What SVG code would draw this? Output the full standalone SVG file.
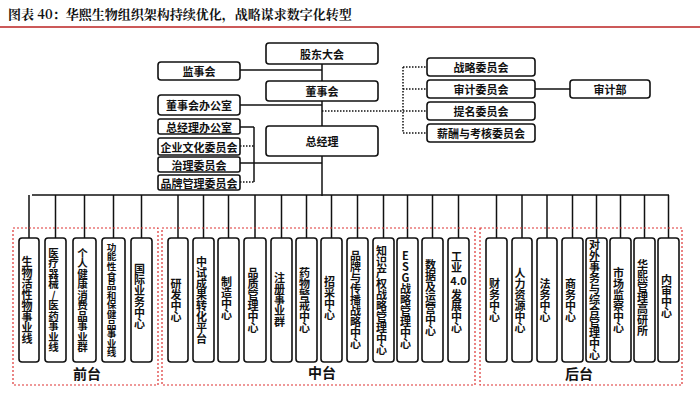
<svg xmlns="http://www.w3.org/2000/svg" width="700" height="401" viewBox="0 0 700 401">
<style>
.b{fill:#fff;stroke:#111;stroke-width:1.6}
.t{font-family:"Noto Sans CJK SC","Liberation Sans",sans-serif;font-weight:bold;font-size:11px;fill:#111;text-anchor:middle;dominant-baseline:central}
.v{font-family:"Noto Sans CJK SC",sans-serif;font-weight:bold;font-size:11px;fill:#111;writing-mode:vertical-rl;text-orientation:upright;text-anchor:middle;transform:translateX(-2px)}
.l{stroke:#111;stroke-width:1.5;fill:none}
.d{stroke:#111;stroke-width:1.5;fill:none;stroke-dasharray:1.5 1.5}
.r{fill:none;stroke:#d33;stroke-width:1.2;stroke-dasharray:2 2}
.g{font-family:"Noto Sans CJK SC",sans-serif;font-weight:bold;font-size:14px;fill:#111;text-anchor:middle;dominant-baseline:central}
</style>
<rect width="700" height="401" fill="#fff"/>
<text x="8" y="13" style="font-family:'Noto Serif CJK SC','Noto Sans CJK SC',serif;font-weight:bold;font-size:13px;fill:#111;dominant-baseline:central">图表 40：华熙生物组织架构持续优化，战略谋求数字化转型</text>
<line x1="0" y1="27" x2="700" y2="27" stroke="#b22" stroke-width="1.5"/>
<g id="connectors">
<line class="l" x1="322" y1="63" x2="322" y2="126"/>
<line class="l" x1="322" y1="156" x2="322" y2="196" stroke-width="3"/>
<line class="l" x1="240" y1="70" x2="322" y2="70"/>
<line class="l" x1="240" y1="105" x2="322" y2="105"/>
<line class="l" x1="240" y1="127" x2="254" y2="127"/>
<line class="l" x1="254" y1="127" x2="254" y2="182"/>
<line class="d" x1="240" y1="146" x2="254" y2="146"/>
<line class="l" x1="240" y1="163" x2="322" y2="163"/>
<line class="d" x1="240" y1="182" x2="254" y2="182"/>
<line class="d" x1="322" y1="111" x2="403" y2="111"/>
<line class="d" x1="403" y1="67" x2="403" y2="133"/>
<line class="d" x1="403" y1="67" x2="427" y2="67"/>
<line class="d" x1="403" y1="89" x2="427" y2="89"/>
<line class="d" x1="403" y1="111" x2="427" y2="111"/>
<line class="d" x1="403" y1="133" x2="427" y2="133"/>
<line class="l" x1="535" y1="89" x2="570" y2="89"/>
<line class="l" x1="32" y1="195" x2="669" y2="195" stroke-width="2"/>
<path class="l" d="M29 195V238M55.5 195V238M84.5 195V238M113.5 195V238M141.5 195V238M178 195V238M203.5 195V238M228.5 195V238M255 195V238M281.5 195V238M306.5 195V238M331.5 195V238M357.5 195V238M383.5 195V238M407.5 195V238M432.5 195V238M458.5 195V238M496.5 195V238M522 195V238M547 195V238M572.5 195V238M596.5 195V238M620.5 195V238M644.5 195V238M668.5 195V238"/>
</g>
<rect class="r" x="13" y="228" width="145" height="157"/>
<rect class="r" x="162" y="228" width="313" height="157"/>
<rect class="r" x="480" y="228" width="202" height="157"/>
<text class="g" x="87" y="373">前台</text>
<text class="g" x="322" y="372">中台</text>
<text class="g" x="579" y="373">后台</text>
<g id="top">
<g id="n1"><rect class="b" x="266" y="43" width="112" height="21" rx="3"/><text class="t" x="322" y="53.5">股东大会</text></g>
<g id="n2"><rect class="b" x="158" y="62" width="82" height="18" rx="3"/><text class="t" x="199" y="71">监事会</text></g>
<g id="n3"><rect class="b" x="266" y="81" width="112" height="20" rx="3"/><text class="t" x="322" y="91">董事会</text></g>
<g id="n4"><rect class="b" x="158" y="95" width="82" height="20" rx="3"/><text class="t" x="199" y="105">董事会办公室</text></g>
<g id="n5"><rect class="b" x="266" y="126" width="112" height="30" rx="3"/><text class="t" x="322" y="141">总经理</text></g>
<g id="n6"><rect class="b" x="158" y="119" width="82" height="15" rx="2"/><text class="t" x="199" y="126.5">总经理办公室</text></g>
<g id="n7"><rect class="b" x="158" y="138" width="82" height="17" rx="2"/><text class="t" x="199" y="146.5">企业文化委员会</text></g>
<g id="n8"><rect class="b" x="158" y="157" width="82" height="15" rx="2"/><text class="t" x="199" y="164.5">治理委员会</text></g>
<g id="n9"><rect class="b" x="158" y="175" width="82" height="15" rx="2"/><text class="t" x="199" y="182.5">品牌管理委员会</text></g>
<g id="n10"><rect class="b" x="427" y="58" width="108" height="18" rx="3"/><text class="t" x="481" y="67">战略委员会</text></g>
<g id="n11"><rect class="b" x="427" y="80" width="108" height="18" rx="3"/><text class="t" x="481" y="89">审计委员会</text></g>
<g id="n12"><rect class="b" x="427" y="102" width="108" height="18" rx="3"/><text class="t" x="481" y="111">提名委员会</text></g>
<g id="n13"><rect class="b" x="427" y="124" width="108" height="18" rx="3"/><text class="t" x="481" y="133">薪酬与考核委员会</text></g>
<g id="n14"><rect class="b" x="570" y="80" width="80" height="18" rx="3"/><text class="t" x="610" y="89">审计部</text></g>
</g>
<g id="bottom">
<g id="c1"><rect class="b" x="19" y="238" width="20" height="124" rx="3"/><text class="v" x="29" y="300">生物活性物事业线</text></g>
<g id="c2"><rect class="b" x="45" y="238" width="21" height="124" rx="3"/><text class="v" x="55.5" y="300" style="font-size:10.5px">医疗器械/医药事业线</text></g>
<g id="c3"><rect class="b" x="73" y="238" width="23" height="124" rx="3"/><text class="v" x="84.5" y="300" style="font-size:10.5px">个人健康消费品事业群</text></g>
<g id="c4"><rect class="b" x="102" y="238" width="23" height="124" rx="3"/><text class="v" x="113.5" y="300" style="font-size:9.6px">功能性食品和保健品事业线</text></g>
<g id="c5"><rect class="b" x="131" y="238" width="21" height="124" rx="3"/><text class="v" x="141.5" y="296">国际业务中心</text></g>
<g id="c6"><rect class="b" x="168" y="238" width="20" height="124" rx="3"/><text class="v" x="178" y="300">研发中心</text></g>
<g id="c7"><rect class="b" x="193" y="238" width="21" height="124" rx="3"/><text class="v" x="203.5" y="300">中试成果转化平台</text></g>
<g id="c8"><rect class="b" x="218" y="238" width="21" height="124" rx="3"/><text class="v" x="228.5" y="298">制造中心</text></g>
<g id="c9"><rect class="b" x="244" y="238" width="22" height="124" rx="3"/><text class="v" x="255" y="300">品质管理中心</text></g>
<g id="c10"><rect class="b" x="271" y="238" width="21" height="124" rx="3"/><text class="v" x="281.5" y="300">注册事业群</text></g>
<g id="c11"><rect class="b" x="296" y="238" width="21" height="124" rx="3"/><text class="v" x="306.5" y="300">药物警戒中心</text></g>
<g id="c12"><rect class="b" x="321" y="238" width="21" height="124" rx="3"/><text class="v" x="331.5" y="298">招采中心</text></g>
<g id="c13"><rect class="b" x="347" y="238" width="21" height="124" rx="3"/><text class="v" x="357.5" y="300">品牌与传播战略中心</text></g>
<g id="c14"><rect class="b" x="373" y="238" width="21" height="124" rx="3"/><text class="v" x="383.5" y="300">知识产权战略管理中心</text></g>
<g id="c15"><rect class="b" x="397" y="238" width="21" height="124" rx="3"/><text class="v" x="407.5" y="300">ESG战略管理中心</text></g>
<g id="c16"><rect class="b" x="422" y="238" width="21" height="124" rx="3"/><text class="v" x="432.5" y="298">数据及运营中心</text></g>
<g id="c17"><rect class="b" x="448" y="238" width="21" height="124" rx="3"/><text class="v" x="458.5" y="262">工业</text><text class="t" x="458.5" y="280">4.0</text><text class="v" x="458.5" y="311">发展中心</text></g>
<g id="c18"><rect class="b" x="486" y="238" width="21" height="124" rx="3"/><text class="v" x="496.5" y="300">财务中心</text></g>
<g id="c19"><rect class="b" x="512" y="238" width="20" height="124" rx="3"/><text class="v" x="522" y="300">人力资源中心</text></g>
<g id="c20"><rect class="b" x="537" y="238" width="20" height="124" rx="3"/><text class="v" x="547" y="300">法务中心</text></g>
<g id="c21"><rect class="b" x="562" y="238" width="21" height="124" rx="3"/><text class="v" x="572.5" y="300">商务中心</text></g>
<g id="c22"><rect class="b" x="586" y="238" width="21" height="124" rx="3"/><text class="v" x="596.5" y="300">对外事务与综合管理中心</text></g>
<g id="c23"><rect class="b" x="610" y="238" width="21" height="124" rx="3"/><text class="v" x="620.5" y="300">市场监察中心</text></g>
<g id="c24"><rect class="b" x="634" y="238" width="21" height="124" rx="3"/><text class="v" x="644.5" y="298">华熙管理高研所</text></g>
<g id="c25"><rect class="b" x="658" y="238" width="21" height="124" rx="3"/><text class="v" x="668.5" y="296">内审中心</text></g>
</g>
</svg>
